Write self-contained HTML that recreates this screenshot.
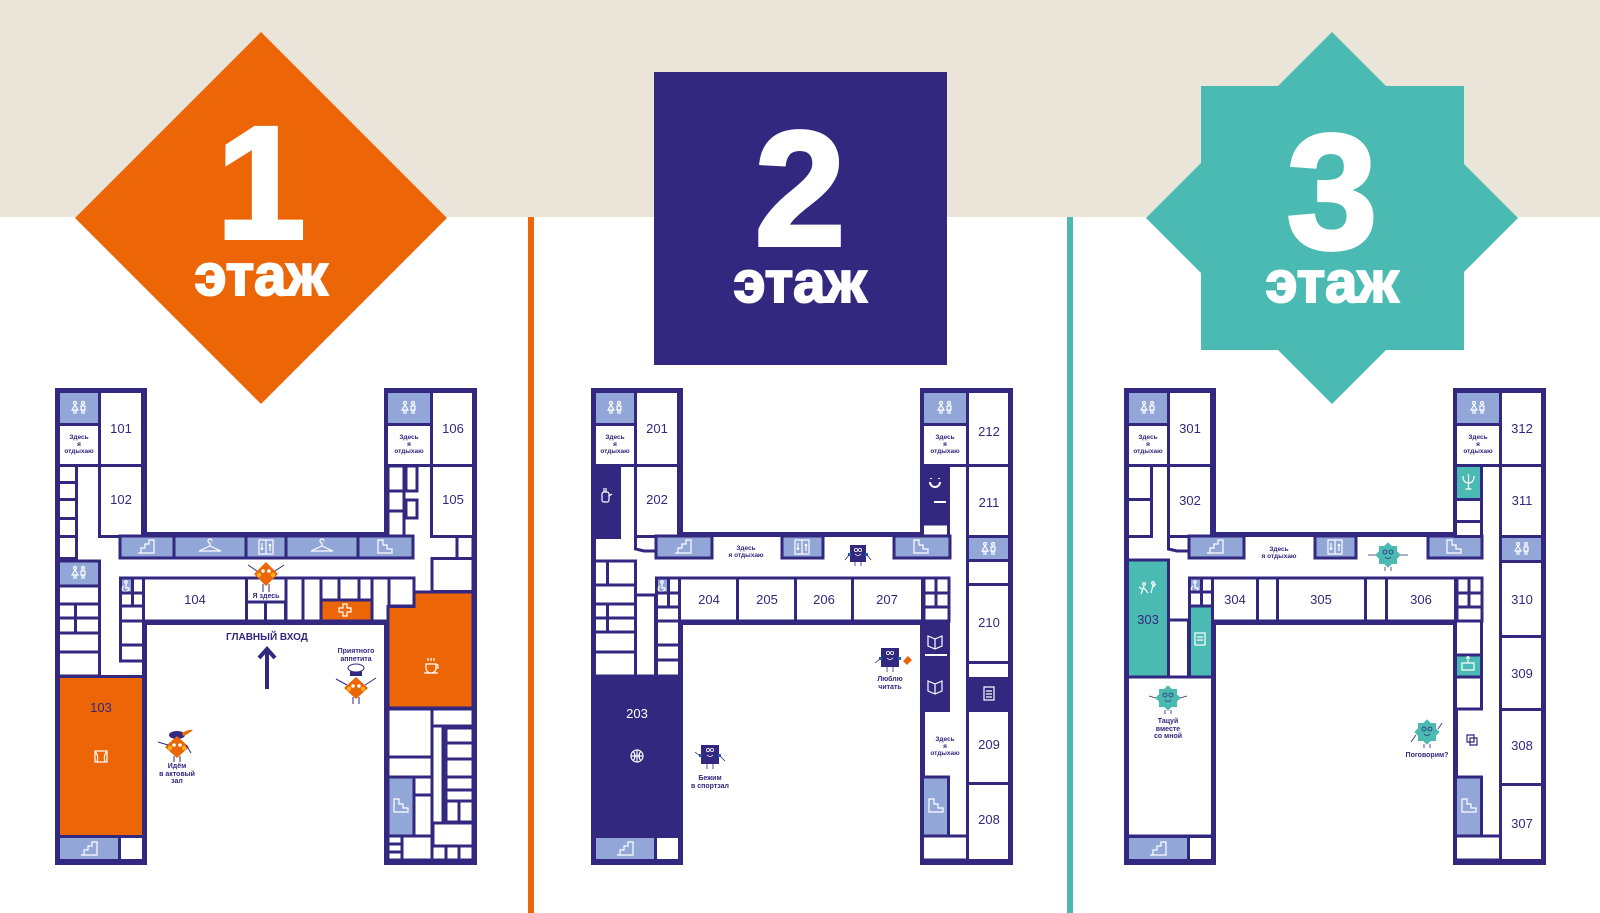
<!DOCTYPE html>
<html><head><meta charset="utf-8"><style>
html,body{margin:0;padding:0;width:1600px;height:913px;overflow:hidden;background:#fff}
svg{display:block}
.r{stroke:#32287f;stroke-width:3}
.n{font-family:"Liberation Sans",sans-serif;font-size:13px;fill:#32287f;text-anchor:middle}
.s{font-family:"Liberation Sans",sans-serif;font-size:6.5px;font-weight:bold;fill:#32287f;text-anchor:middle}
.m{font-family:"Liberation Sans",sans-serif;font-size:7px;font-weight:bold;fill:#32287f;text-anchor:middle}
.ic{stroke:#fff;stroke-width:1.2;fill:none}
.h{font-family:"Liberation Sans",sans-serif;font-weight:bold;fill:#fff;text-anchor:middle;stroke:#fff}
</style></head><body>
<svg width="1600" height="913" viewBox="0 0 1600 913" xmlns="http://www.w3.org/2000/svg">
<defs>
<g id="wc" class="ic"><circle cx="-4" cy="-5" r="1.5"/><path d="M-7,2 L-4,-3 L-1,2 Z M-5,2 V6 M-3,2 V6"/><circle cx="4" cy="-5" r="1.5"/><path d="M2,-2 H6 V2 H2 Z M3,2 V6 M5,2 V6"/></g>
<path id="stL" class="ic" d="M-9,6 H7 V-7 H2 V-3 H-2 V1 H-6 V6"/>
<path id="stR" class="ic" d="M-7,-7 H-2 V-2 H2 V2 H7 V6 H-7 Z"/>
<path id="hg" class="ic" d="M-11,4 L0,-1 L11,4 Z M0,-1 V-4 A2,2 0 1 1 2,-6"/>
<g id="lf" class="ic"><rect x="-7" y="-7" width="14" height="14"/><path d="M0,-7 V7 M-4,-4 V3 M-4,3 L-5,1 M-4,3 L-3,1 M4,4 V-3 M4,-3 L3,-1 M4,-3 L5,-1"/></g>
<g id="wch" class="ic"><circle cx="0" cy="-4" r="1.3"/><path d="M0,-2 V2 H3 V5 M-2,0 A3,3 0 1 0 2,4"/></g>
</defs>

<rect x="0" y="0" width="1600" height="217" fill="#ebe4d9"/>
<rect x="0" y="217" width="1600" height="696" fill="#fff"/>
<rect x="528" y="217" width="6" height="696" fill="#ec6608"/>
<rect x="1067" y="217" width="6" height="696" fill="#4bbab3"/>

<polygon points="261,32 447,218 261,404 75,218" fill="#ec6608"/>
<text x="261" y="238" class="h" font-size="160" stroke-width="4">1</text>
<text x="261" y="295" class="h" font-size="58" stroke-width="2">этаж</text>

<rect x="654" y="72" width="293" height="293" fill="#32287f"/>
<text x="800" y="245" class="h" font-size="163" stroke-width="4">2</text>
<text x="800" y="302" class="h" font-size="58" stroke-width="2">этаж</text>

<rect x="1201" y="86" width="263" height="264" fill="#4bbab3"/>
<polygon points="1332,32 1518,218 1332,404 1146,218" fill="#4bbab3"/>
<text x="1332" y="248" class="h" font-size="163" stroke-width="4">3</text>
<text x="1332" y="302" class="h" font-size="58" stroke-width="2">этаж</text>

<!-- ================= FLOOR 1 ================= -->
<g transform="translate(0,0)">
<path d="M55,388 H147 V532 H384 V388 H477 V865 H384 V625 H147 V865 H55 Z" fill="#32287f"/>
<path d="M60,393 H142 V537 H389 V393 H472 V860 H389 V620 H142 V860 H60 Z" fill="#fff"/>
<rect class="r" x="58.5" y="391.5" width="41" height="33" fill="#93a6d8"/><use href="#wc" x="79" y="408"/>
<rect class="r" x="58.5" y="424.5" width="41" height="41" fill="#fff"/>
<text class="s" x="79" y="439">Здесь</text><text class="s" x="79" y="446">я</text><text class="s" x="79" y="453">отдыхаю</text>
<rect class="r" x="99.5" y="391.5" width="43" height="74" fill="#fff"/><text class="n" x="121" y="433">101</text>
<rect class="r" x="99.5" y="465.5" width="43" height="71" fill="#fff"/><text class="n" x="121" y="504">102</text>
<rect class="r" x="58.5" y="465.5" width="18" height="17" fill="#fff"/>
<rect class="r" x="58.5" y="482.5" width="18" height="17" fill="#fff"/>
<rect class="r" x="58.5" y="499.5" width="18" height="19" fill="#fff"/>
<rect class="r" x="58.5" y="518.5" width="18" height="18" fill="#fff"/>
<rect class="r" x="58.5" y="536.5" width="18" height="22" fill="#fff"/>
<rect class="r" x="120" y="536" width="54" height="22" fill="#93a6d8"/><use href="#stL" x="147" y="547"/>
<rect class="r" x="174" y="536" width="72" height="22" fill="#93a6d8"/><use href="#hg" x="210" y="547"/>
<rect class="r" x="246" y="536" width="40" height="22" fill="#93a6d8"/><use href="#lf" x="266" y="547"/>
<rect class="r" x="286" y="536" width="72" height="22" fill="#93a6d8"/><use href="#hg" x="322" y="547"/>
<rect class="r" x="358" y="536" width="55" height="22" fill="#93a6d8"/><use href="#stR" x="385" y="547"/>
<rect class="r" x="58.5" y="561" width="41" height="25" fill="#93a6d8"/><use href="#wc" x="79" y="573"/>
<rect class="r" x="58.5" y="586" width="41" height="18" fill="#fff"/>
<rect class="r" x="58.5" y="604" width="17" height="14" fill="#fff"/><rect class="r" x="75.5" y="604" width="24" height="14" fill="#fff"/>
<rect class="r" x="58.5" y="618" width="17" height="15" fill="#fff"/><rect class="r" x="75.5" y="618" width="24" height="15" fill="#fff"/>
<rect class="r" x="58.5" y="633" width="41" height="19" fill="#fff"/>
<rect class="r" x="58.5" y="652" width="41" height="24" fill="#fff"/>
<rect class="r" x="58.5" y="676.5" width="85" height="160" fill="#ec6608"/><text class="n" x="101" y="712">103</text>
<g class="ic"><rect x="95" y="751" width="12" height="11"/><path d="M95,751 Q99,756 97,762 M107,751 Q103,756 105,762"/></g>
<rect class="r" x="58.5" y="836.5" width="61" height="24" fill="#93a6d8"/><use href="#stL" x="90" y="849"/>
<rect class="r" x="119.5" y="836.5" width="24" height="24" fill="#fff"/>
<rect class="r" x="120.5" y="578" width="12" height="15" fill="#93a6d8"/><use href="#wch" x="126" y="586"/>
<rect class="r" x="132.5" y="578" width="11" height="15" fill="#fff"/>
<rect class="r" x="120.5" y="593" width="12" height="13" fill="#fff"/><rect class="r" x="132.5" y="593" width="11" height="13" fill="#fff"/>
<rect class="r" x="120.5" y="606" width="23" height="15" fill="#fff"/>
<rect class="r" x="120.5" y="621" width="23" height="24" fill="#fff"/>
<rect class="r" x="120.5" y="645" width="23" height="16" fill="#fff"/>
<rect class="r" x="143.5" y="578" width="103" height="43" fill="#fff"/><text class="n" x="195" y="604">104</text>
<rect class="r" x="246.5" y="602" width="19" height="19" fill="#fff"/><rect class="r" x="265.5" y="602" width="20" height="19" fill="#fff"/>
<path d="M246.5,578 H286 V602" class="r" fill="none"/>
<rect class="r" x="286" y="578" width="17" height="43" fill="#fff"/>
<rect class="r" x="303" y="578" width="18" height="43" fill="#fff"/>
<rect class="r" x="321" y="578" width="18" height="22" fill="#fff"/>
<rect class="r" x="339" y="578" width="20" height="22" fill="#fff"/>
<rect class="r" x="359" y="578" width="13" height="22" fill="#fff"/>
<rect class="r" x="321" y="600" width="51" height="21" fill="#ec6608"/>
<path class="ic" d="M343,604 h4 v4 h4 v4 h-4 v4 h-4 v-4 h-4 v-4 h4 z"/>
<rect class="r" x="372" y="578" width="17" height="43" fill="#fff"/>
<rect class="r" x="389" y="578" width="25" height="28" fill="#fff"/>
<rect class="r" x="386.5" y="391.5" width="45" height="33" fill="#93a6d8"/><use href="#wc" x="409" y="408"/>
<rect class="r" x="386.5" y="424.5" width="45" height="41" fill="#fff"/>
<text class="s" x="409" y="439">Здесь</text><text class="s" x="409" y="446">я</text><text class="s" x="409" y="453">отдыхаю</text>
<rect class="r" x="431.5" y="391.5" width="42" height="74" fill="#fff"/><text class="n" x="453" y="433">106</text>
<rect class="r" x="431.5" y="465.5" width="42" height="71" fill="#fff"/><text class="n" x="453" y="504">105</text>
<rect class="r" x="388" y="466" width="16" height="25" fill="#fff"/><rect class="r" x="406" y="466" width="11" height="25" fill="#fff"/>
<rect class="r" x="388" y="491" width="16" height="20" fill="#fff"/><rect class="r" x="406" y="500" width="11" height="18" fill="#fff"/>
<rect class="r" x="388" y="511" width="16" height="25" fill="#fff"/>
<rect class="r" x="457" y="536.5" width="16" height="22" fill="#fff"/>
<rect class="r" x="432" y="558.5" width="41" height="33" fill="#fff"/>
<path d="M388,606.5 H414 V592 H473 V708 H388 Z" fill="#ec6608" stroke="#32287f" stroke-width="3"/>
<g class="ic"><path d="M426,664 h10 v4 a5,5 0 0 1 -10,0 z M436,665 h2 v3 h-2 M424,673 h14"/><path d="M428,661 v-3 M431,661 v-3 M434,661 v-3"/></g>
<rect class="r" x="388" y="709" width="44" height="48" fill="#fff"/>
<rect class="r" x="432" y="709" width="41" height="17" fill="#fff"/>
<rect class="r" x="388" y="757" width="44" height="20" fill="#fff"/>
<rect class="r" x="443" y="727" width="30" height="96" fill="#fff"/>
<rect class="r" x="446" y="728" width="27" height="15" fill="#fff"/>
<rect class="r" x="446" y="743" width="27" height="16" fill="#fff"/>
<rect class="r" x="446" y="759" width="27" height="18" fill="#fff"/>
<rect class="r" x="446" y="777" width="27" height="13" fill="#fff"/>
<rect class="r" x="446" y="790" width="27" height="11" fill="#fff"/>
<rect class="r" x="446" y="801" width="13" height="21" fill="#fff"/><rect class="r" x="459" y="801" width="14" height="21" fill="#fff"/>
<rect class="r" x="388" y="777" width="26" height="59" fill="#93a6d8"/><use href="#stR" x="401" y="806"/>
<rect class="r" x="414" y="777" width="18" height="18" fill="#fff"/><rect class="r" x="414" y="795" width="18" height="41" fill="#fff"/>
<rect class="r" x="433" y="823" width="40" height="23" fill="#fff"/>
<rect class="r" x="388" y="836" width="14" height="8" fill="#fff"/><rect class="r" x="388" y="844" width="14" height="8" fill="#fff"/><rect class="r" x="388" y="852" width="14" height="8" fill="#fff"/>
<rect class="r" x="402" y="836" width="30" height="24" fill="#fff"/>
<rect class="r" x="432" y="846" width="14" height="14" fill="#fff"/><rect class="r" x="446" y="846" width="13" height="14" fill="#fff"/><rect class="r" x="459" y="846" width="14" height="14" fill="#fff"/>
<g transform="translate(266,574)"><polygon points="0,-12 12,0 0,12 -12,0" fill="#ec6608"/><circle cx="-3" cy="-3" r="1.8" fill="#fff"/><circle cx="3" cy="-3" r="1.8" fill="#fff"/><circle cx="-7" cy="1" r="2.2" fill="#f7b21e"/><circle cx="7" cy="1" r="2.2" fill="#f7b21e"/><path d="M-9,-3 L-18,-9 M9,-3 L18,-9 M-3,10 V18 M3,10 V18" stroke="#32287f" stroke-width="1"/></g>
<text class="m" x="266" y="598">Я здесь</text>
<text x="267" y="640" font-family="Liberation Sans,sans-serif" font-size="10" font-weight="bold" fill="#32287f" text-anchor="middle">ГЛАВНЫЙ ВХОД</text>
<path d="M267,689 V650 M259,658 L267,649 L275,658" stroke="#32287f" stroke-width="4" fill="none"/>
<text class="m" x="356" y="653">Приятного</text><text class="m" x="356" y="661">аппетита</text>
<g transform="translate(356,688)"><rect x="-6" y="-19" width="12" height="7" fill="#32287f"/><ellipse cx="0" cy="-20" rx="8" ry="4" fill="#fff" stroke="#32287f"/><polygon points="0,-11 12,0 0,11 -12,0" fill="#ec6608"/><circle cx="-3" cy="-2" r="1.8" fill="#fff"/><circle cx="3" cy="-2" r="1.8" fill="#fff"/><circle cx="-7" cy="1" r="2.2" fill="#f7b21e"/><circle cx="7" cy="1" r="2.2" fill="#f7b21e"/><path d="M-9,-3 L-20,-9 M9,-3 L20,-10 M-3,9 V16 M3,9 V16" stroke="#32287f" stroke-width="1"/></g>
<g transform="translate(177,745)"><ellipse cx="0" cy="-10" rx="8" ry="4" fill="#32287f"/><path d="M5,-12 Q12,-16 16,-15 Q10,-10 6,-9 Z" fill="#ec6608"/><polygon points="0,-9 12,2 0,13 -12,2" fill="#ec6608"/><circle cx="-3" cy="0" r="1.8" fill="#fff"/><circle cx="3" cy="0" r="1.8" fill="#fff"/><circle cx="-7" cy="3" r="2.2" fill="#f7b21e"/><circle cx="7" cy="3" r="2.2" fill="#f7b21e"/><path d="M-9,0 L-19,-3 M9,0 L14,8 M-3,11 V17 M3,11 V17" stroke="#32287f" stroke-width="1"/></g>
<text class="m" x="177" y="768">Идём</text><text class="m" x="177" y="776">в актовый</text><text class="m" x="177" y="783">зал</text>
</g>

<!-- ================= FLOOR 2 ================= -->
<g transform="translate(536,0)">
<path d="M55,388 H147 V532 H384 V388 H477 V865 H384 V625 H147 V865 H55 Z" fill="#32287f"/>
<path d="M60,393 H142 V537 H389 V393 H472 V860 H389 V620 H142 V860 H60 Z" fill="#fff"/>
<rect class="r" x="58.5" y="391.5" width="41" height="33" fill="#93a6d8"/><use href="#wc" x="79" y="408"/>
<rect class="r" x="58.5" y="424.5" width="41" height="41" fill="#fff"/>
<text class="s" x="79" y="439">Здесь</text><text class="s" x="79" y="446">я</text><text class="s" x="79" y="453">отдыхаю</text>
<rect class="r" x="99.5" y="391.5" width="43" height="74" fill="#fff"/><text class="n" x="121" y="433">201</text>
<rect class="r" x="99.5" y="465.5" width="43" height="71" fill="#fff"/><text class="n" x="121" y="504">202</text>
<rect x="57" y="464" width="28" height="75" fill="#32287f"/>
<g class="ic"><rect x="66" y="492" width="7" height="10" rx="2"/><path d="M68,492 v-4 M70,492 v-4 M73,496 l3,-2"/></g>
<path d="M99.5,536 V549 L108,551 H120" stroke="#32287f" stroke-width="3" fill="none"/>
<rect class="r" x="120" y="536" width="56" height="22" fill="#93a6d8"/><use href="#stL" x="148" y="547"/>
<text class="s" x="210" y="550">Здесь</text><text class="s" x="210" y="557">я отдыхаю</text>
<rect class="r" x="246" y="536" width="41" height="22" fill="#93a6d8"/><use href="#lf" x="266" y="547"/>
<rect class="r" x="358" y="536" width="56" height="22" fill="#93a6d8"/><use href="#stR" x="385" y="547"/>
<rect class="r" x="58.5" y="561" width="13" height="24" fill="#fff"/><rect class="r" x="71.5" y="561" width="28" height="24" fill="#fff"/>
<rect class="r" x="58.5" y="585" width="41" height="19" fill="#fff"/>
<rect class="r" x="58.5" y="604" width="13" height="14" fill="#fff"/><rect class="r" x="71.5" y="604" width="28" height="14" fill="#fff"/>
<rect class="r" x="58.5" y="618" width="13" height="14" fill="#fff"/><rect class="r" x="71.5" y="618" width="28" height="14" fill="#fff"/>
<rect class="r" x="58.5" y="632" width="41" height="20" fill="#fff"/>
<rect class="r" x="58.5" y="652" width="41" height="24" fill="#fff"/>
<rect class="r" x="99.5" y="595" width="20" height="81" fill="#fff"/>
<rect x="55" y="675" width="92" height="163" fill="#32287f"/>
<text class="n" x="101" y="718" style="fill:#fff">203</text>
<g class="ic"><circle cx="101" cy="756" r="6"/><path d="M95,756 H107 M101,750 V762 M97,751 Q101,756 97,761 M105,751 Q101,756 105,761"/></g>
<rect class="r" x="58.5" y="836.5" width="61" height="24" fill="#93a6d8"/><use href="#stL" x="90" y="849"/>
<rect class="r" x="119.5" y="836.5" width="24" height="24" fill="#fff"/>
<rect class="r" x="120.5" y="578" width="12" height="15" fill="#93a6d8"/><use href="#wch" x="126" y="586"/>
<rect class="r" x="132.5" y="578" width="11" height="15" fill="#fff"/>
<rect class="r" x="120.5" y="593" width="12" height="14" fill="#fff"/><rect class="r" x="132.5" y="593" width="11" height="14" fill="#fff"/>
<rect class="r" x="120.5" y="607" width="23" height="14" fill="#fff"/>
<rect class="r" x="120.5" y="621" width="23" height="24" fill="#fff"/>
<rect class="r" x="120.5" y="645" width="23" height="15" fill="#fff"/>
<rect class="r" x="120.5" y="660" width="23" height="16" fill="#fff"/>
<rect class="r" x="143.5" y="578" width="58" height="43" fill="#fff"/><text class="n" x="173" y="604">204</text>
<rect class="r" x="201.5" y="578" width="58" height="43" fill="#fff"/><text class="n" x="231" y="604">205</text>
<rect class="r" x="259.5" y="578" width="57" height="43" fill="#fff"/><text class="n" x="288" y="604">206</text>
<rect class="r" x="316.5" y="578" width="70" height="43" fill="#fff"/><text class="n" x="351" y="604">207</text>
<rect class="r" x="388" y="578" width="12" height="15" fill="#fff"/><rect class="r" x="400" y="578" width="13" height="15" fill="#fff"/>
<rect class="r" x="388" y="593" width="12" height="14" fill="#fff"/><rect class="r" x="400" y="593" width="13" height="14" fill="#fff"/>
<rect class="r" x="388" y="607" width="25" height="14" fill="#fff"/>
<rect class="r" x="386.5" y="391.5" width="45" height="33" fill="#93a6d8"/><use href="#wc" x="409" y="408"/>
<rect class="r" x="386.5" y="424.5" width="45" height="41" fill="#fff"/>
<text class="s" x="409" y="439">Здесь</text><text class="s" x="409" y="446">я</text><text class="s" x="409" y="453">отдыхаю</text>
<rect x="384" y="464" width="30" height="61" fill="#32287f"/>
<path class="ic" d="M394,482 a5,5 0 0 0 10,0 M395,478 v1 M403,478 v1 M398,502 h12" style="stroke-width:2"/>
<rect class="r" x="386.5" y="524" width="26" height="12" fill="#fff"/>
<rect class="r" x="431.5" y="391.5" width="42" height="74" fill="#fff"/><text class="n" x="453" y="436">212</text>
<rect class="r" x="431.5" y="465.5" width="42" height="71" fill="#fff"/><text class="n" x="453" y="507">211</text>
<rect class="r" x="431.5" y="536.5" width="42" height="24" fill="#93a6d8"/><use href="#wc" x="453" y="549"/>
<rect class="r" x="431.5" y="560.5" width="42" height="24" fill="#fff"/>
<rect class="r" x="431.5" y="584.5" width="42" height="78" fill="#fff"/><text class="n" x="453" y="627">210</text>
<rect class="r" x="431.5" y="662.5" width="42" height="16" fill="#fff"/>
<rect x="430" y="677" width="45" height="34" fill="#32287f"/>
<g class="ic"><rect x="448" y="687" width="10" height="13"/><path d="M450,691 h6 M450,694 h6 M450,697 h6"/></g>
<rect class="r" x="431.5" y="710.5" width="42" height="73" fill="#fff"/><text class="n" x="453" y="749">209</text>
<rect class="r" x="431.5" y="783.5" width="42" height="77" fill="#fff"/><text class="n" x="453" y="824">208</text>
<rect x="384" y="620" width="30" height="92" fill="#32287f"/>
<rect x="389" y="654" width="22" height="2" fill="#fff"/>
<g class="ic"><path d="M392,636 l7,3 l7,-3 v10 l-7,3 l-7,-3 z M399,639 v10"/><path d="M392,681 l7,3 l7,-3 v10 l-7,3 l-7,-3 z M399,684 v10"/></g>
<text class="s" x="409" y="741">Здесь</text><text class="s" x="409" y="748">я</text><text class="s" x="409" y="755">отдыхаю</text>
<rect class="r" x="386.5" y="777" width="26" height="59" fill="#93a6d8"/><use href="#stR" x="400" y="806"/>
<rect class="r" x="386.5" y="836" width="45" height="24" fill="#fff"/>
<g transform="translate(322,554)"><rect x="-8" y="-9" width="16" height="17" fill="#32287f"/><circle cx="-2" cy="-4" r="1.6" fill="none" stroke="#fff" stroke-width=".8"/><circle cx="2" cy="-4" r="1.6" fill="none" stroke="#fff" stroke-width=".8"/><path d="M-3,0 q3,3 6,0" stroke="#fff" stroke-width=".8" fill="none"/><rect x="-10" y="-1" width="3" height="3" fill="#1c5fb0"/><rect x="7" y="-1" width="3" height="3" fill="#1c5fb0"/><path d="M-9,1 L-13,6 M9,1 L13,6 M-3,8 V12 M3,8 V12" stroke="#32287f" stroke-width=".8"/></g>
<g transform="translate(354,658)"><rect x="-9" y="-10" width="18" height="19" fill="#32287f"/><circle cx="-2" cy="-5" r="1.6" fill="none" stroke="#fff" stroke-width=".8"/><circle cx="2" cy="-5" r="1.6" fill="none" stroke="#fff" stroke-width=".8"/><path d="M-3,0 q3,3 6,0" stroke="#fff" stroke-width=".8" fill="none"/><rect x="-11" y="-1" width="3" height="3" fill="#1c5fb0"/><rect x="8" y="-1" width="3" height="3" fill="#1c5fb0"/><polygon points="13,3 18,-2 22,2 17,7" fill="#ec6608"/><path d="M-10,1 L-15,5 M-3,9 V14 M3,9 V14" stroke="#32287f" stroke-width=".8"/></g>
<text class="m" x="354" y="681">Люблю</text><text class="m" x="354" y="689">читать</text>
<g transform="translate(174,755)"><rect x="-9" y="-10" width="18" height="19" fill="#32287f"/><circle cx="-2" cy="-5" r="1.6" fill="none" stroke="#fff" stroke-width=".8"/><circle cx="2" cy="-5" r="1.6" fill="none" stroke="#fff" stroke-width=".8"/><path d="M-3,0 q3,3 6,0" stroke="#fff" stroke-width=".8" fill="none"/><rect x="-11" y="-1" width="3" height="3" fill="#1c5fb0"/><rect x="8" y="-1" width="3" height="3" fill="#1c5fb0"/><path d="M-10,1 L-15,-3 M10,1 L15,6 M-3,9 V14 M3,9 V14" stroke="#32287f" stroke-width=".8"/></g>
<text class="m" x="174" y="780">Бежим</text><text class="m" x="174" y="788">в спортзал</text>
</g>

<!-- ================= FLOOR 3 ================= -->
<g transform="translate(1069,0)">
<path d="M55,388 H147 V532 H384 V388 H477 V865 H384 V625 H147 V865 H55 Z" fill="#32287f"/>
<path d="M60,393 H142 V537 H389 V393 H472 V860 H389 V620 H142 V860 H60 Z" fill="#fff"/>
<rect class="r" x="58.5" y="391.5" width="41" height="33" fill="#93a6d8"/><use href="#wc" x="79" y="408"/>
<rect class="r" x="58.5" y="424.5" width="41" height="41" fill="#fff"/>
<text class="s" x="79" y="439">Здесь</text><text class="s" x="79" y="446">я</text><text class="s" x="79" y="453">отдыхаю</text>
<rect class="r" x="99.5" y="391.5" width="43" height="74" fill="#fff"/><text class="n" x="121" y="433">301</text>
<rect class="r" x="99.5" y="465.5" width="43" height="71" fill="#fff"/><text class="n" x="121" y="505">302</text>
<rect class="r" x="58.5" y="465.5" width="24" height="34" fill="#fff"/>
<rect class="r" x="58.5" y="499.5" width="24" height="37" fill="#fff"/>
<path d="M99.5,536 V549 L108,551 H120" stroke="#32287f" stroke-width="3" fill="none"/>
<rect class="r" x="120" y="536" width="55" height="22" fill="#93a6d8"/><use href="#stL" x="147" y="547"/>
<text class="s" x="210" y="551">Здесь</text><text class="s" x="210" y="558">я отдыхаю</text>
<rect class="r" x="246" y="536" width="41" height="22" fill="#93a6d8"/><use href="#lf" x="266" y="547"/>
<rect class="r" x="359" y="536" width="54" height="22" fill="#93a6d8"/><use href="#stR" x="385" y="547"/>
<rect class="r" x="58.5" y="560" width="41" height="117" fill="#4bbab3"/><text class="n" x="79" y="624">303</text>
<g class="ic"><circle cx="75" cy="584" r="1.3"/><circle cx="84" cy="583" r="1.3"/><path d="M75,586 l-3,8 M75,588 l4,5 M84,585 l-2,8 M84,587 l3,-3 M73,589 l-3,-2"/></g>
<rect class="r" x="99.5" y="620" width="20" height="57" fill="#fff"/>
<rect class="r" x="120.5" y="578" width="12" height="14" fill="#93a6d8"/><use href="#wch" x="126" y="586"/>
<rect class="r" x="132.5" y="578" width="11" height="14" fill="#fff"/>
<rect class="r" x="120.5" y="592" width="12" height="14" fill="#fff"/><rect class="r" x="132.5" y="592" width="11" height="14" fill="#fff"/>
<rect class="r" x="120.5" y="606" width="23" height="71" fill="#4bbab3"/>
<g class="ic"><rect x="126" y="633" width="10" height="12"/><path d="M128,637 h6 M128,640 h6"/></g>
<rect class="r" x="58.5" y="677" width="85" height="159" fill="#fff"/>
<rect class="r" x="58.5" y="836.5" width="61" height="24" fill="#93a6d8"/><use href="#stL" x="90" y="849"/>
<rect class="r" x="119.5" y="836.5" width="24" height="24" fill="#fff"/>
<rect class="r" x="143.5" y="578" width="45" height="43" fill="#fff"/><text class="n" x="166" y="604">304</text>
<rect class="r" x="188.5" y="578" width="20" height="43" fill="#fff"/>
<rect class="r" x="208.5" y="578" width="88" height="43" fill="#fff"/><text class="n" x="252" y="604">305</text>
<rect class="r" x="296.5" y="578" width="21" height="43" fill="#fff"/>
<rect class="r" x="317.5" y="578" width="69" height="43" fill="#fff"/><text class="n" x="352" y="604">306</text>
<rect class="r" x="388" y="578" width="12" height="15" fill="#fff"/><rect class="r" x="400" y="578" width="13" height="15" fill="#fff"/>
<rect class="r" x="388" y="593" width="12" height="14" fill="#fff"/><rect class="r" x="400" y="593" width="13" height="14" fill="#fff"/>
<rect class="r" x="388" y="607" width="25" height="14" fill="#fff"/>
<rect class="r" x="386.5" y="391.5" width="45" height="33" fill="#93a6d8"/><use href="#wc" x="409" y="408"/>
<rect class="r" x="386.5" y="424.5" width="45" height="41" fill="#fff"/>
<text class="s" x="409" y="439">Здесь</text><text class="s" x="409" y="446">я</text><text class="s" x="409" y="453">отдыхаю</text>
<rect class="r" x="386.5" y="465.5" width="26" height="34" fill="#4bbab3"/>
<path class="ic" d="M394,476 q0,7 5.5,7 q5.5,0 5.5,-7 M399.5,474 v15 M396.5,489 h6"/>
<rect class="r" x="386.5" y="499.5" width="26" height="22" fill="#fff"/>
<rect class="r" x="386.5" y="521.5" width="26" height="15" fill="#fff"/>
<rect class="r" x="431.5" y="391.5" width="42" height="74" fill="#fff"/><text class="n" x="453" y="433">312</text>
<rect class="r" x="431.5" y="465.5" width="42" height="71" fill="#fff"/><text class="n" x="453" y="505">311</text>
<rect class="r" x="431.5" y="536.5" width="42" height="25" fill="#93a6d8"/><use href="#wc" x="453" y="549"/>
<rect class="r" x="431.5" y="561.5" width="42" height="75" fill="#fff"/><text class="n" x="453" y="604">310</text>
<rect class="r" x="431.5" y="636.5" width="42" height="73" fill="#fff"/><text class="n" x="453" y="678">309</text>
<rect class="r" x="431.5" y="709.5" width="42" height="75" fill="#fff"/><text class="n" x="453" y="750">308</text>
<rect class="r" x="431.5" y="784.5" width="42" height="76" fill="#fff"/><text class="n" x="453" y="828">307</text>
<rect class="r" x="386.5" y="621" width="26" height="34" fill="#fff"/>
<rect class="r" x="386.5" y="655" width="26" height="22" fill="#4bbab3"/>
<path class="ic" d="M393,663 h12 v7 h-12 z M399,663 v-3 M399,659 a1.2,1.2 0 1 1 0.1,0"/>
<rect class="r" x="386.5" y="677" width="26" height="32" fill="#fff"/>
<path class="ic" style="stroke:#32287f" d="M398,735 h7 v7 h-7 z M401,738 h7 v7 h-7 z"/>
<rect class="r" x="386.5" y="777" width="26" height="59" fill="#93a6d8"/><use href="#stR" x="400" y="806"/>
<path d="M412.5,777 V836" stroke="#32287f" stroke-width="3"/>
<rect class="r" x="386.5" y="836" width="45" height="24" fill="#fff"/>
<g transform="translate(319,555)"><rect x="-9" y="-9" width="18" height="18" fill="#4bbab3"/><rect x="-9" y="-9" width="18" height="18" fill="#4bbab3" transform="rotate(45)"/><circle cx="-3" cy="-3" r="2" fill="none" stroke="#32287f" stroke-width=".8"/><circle cx="3" cy="-3" r="2" fill="none" stroke="#32287f" stroke-width=".8"/><path d="M-3,2 q3,3 6,0" stroke="#32287f" stroke-width=".8" fill="none"/><path d="M-12,0 H-20 M12,0 H20 M-3,12 V16 M3,12 V16" stroke="#32287f" stroke-width=".8"/></g>
<g transform="translate(99,698)"><rect x="-9" y="-9" width="18" height="18" fill="#4bbab3"/><rect x="-9" y="-9" width="18" height="18" fill="#4bbab3" transform="rotate(45)"/><circle cx="-3" cy="-3" r="2" fill="none" stroke="#32287f" stroke-width=".8"/><circle cx="3" cy="-3" r="2" fill="none" stroke="#32287f" stroke-width=".8"/><path d="M-3,2 q3,3 6,0" stroke="#32287f" stroke-width=".8" fill="none"/><path d="M-12,0 L-19,-2 M12,0 L19,-2 M-3,12 V16 M3,12 V16" stroke="#32287f" stroke-width=".8"/></g>
<text class="m" x="99" y="723">Тацуй</text><text class="m" x="99" y="731">вместе</text><text class="m" x="99" y="738">со мной</text>
<g transform="translate(358,732)"><rect x="-9" y="-9" width="18" height="18" fill="#4bbab3"/><rect x="-9" y="-9" width="18" height="18" fill="#4bbab3" transform="rotate(45)"/><circle cx="-3" cy="-3" r="2" fill="none" stroke="#32287f" stroke-width=".8"/><circle cx="3" cy="-3" r="2" fill="none" stroke="#32287f" stroke-width=".8"/><path d="M-3,2 q3,3 6,0" stroke="#32287f" stroke-width=".8" fill="none"/><path d="M-11,3 L-16,10 M11,-3 L15,-9 M-3,12 V16 M3,12 V16" stroke="#32287f" stroke-width=".8"/></g>
<text class="m" x="358" y="757">Поговорим?</text>
</g>
</svg>
</body></html>
